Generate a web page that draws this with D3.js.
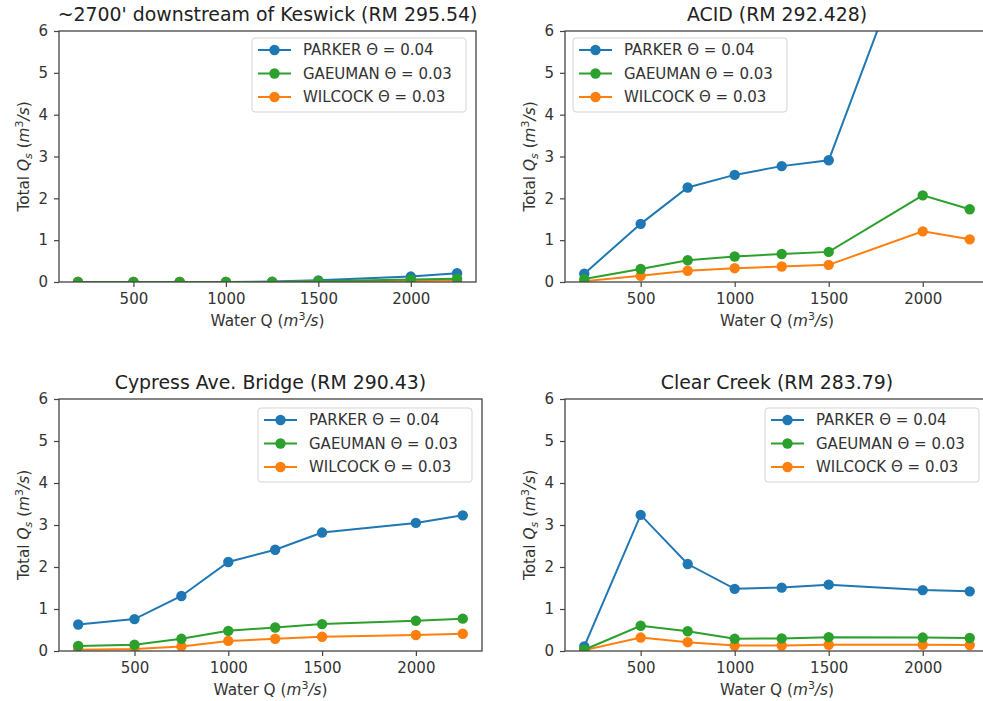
<!DOCTYPE html>
<meta charset="utf-8">
<head>
<style>
body { margin: 0; background: #fff; }
svg { font-family: "DejaVu Sans", sans-serif; }
.tick line { stroke: #444; stroke-width: 1.2; }
</style>
</head>
<body>
<script src="https://cdnjs.cloudflare.com/ajax/libs/d3/7.8.5/d3.min.js"></script>
<script>

// water discharge (x) shared by every site
var waterQ = [200, 500, 750, 1000, 1250, 1500, 2000, 2250];
var xTicks = [500, 1000, 1500, 2000];
var yTicks = [0, 1, 2, 3, 4, 5, 6];

var siteNames = ["~2700' downstream of Keswick (RM 295.54)", "ACID (RM 292.428)",
                 "Cypress Ave. Bridge (RM 290.43)", "Clear Creek (RM 283.79)"];
var legendLabels = ["PARKER \u0398 = 0.04", "GAEUMAN \u0398 = 0.03", "WILCOCK \u0398 = 0.03"];
var colors = ["#1f77b4", "#2ca02c", "#ff7f0e"];

// total sediment transport Qs per site
var parkerKeswick   = [0.00, 0.00, 0.00, 0.00, 0.01, 0.04, 0.13, 0.21];
var gaeumanKeswick  = [0.00, 0.00, 0.00, 0.00, 0.00, 0.02, 0.06, 0.08];
var wilcockKeswick  = [0.00, 0.00, 0.00, 0.00, 0.00, 0.01, 0.03, 0.04];

var parkerAcid      = [0.20, 1.39, 2.26, 2.56, 2.77, 2.91, 8.90, 8.00];
var gaeumanAcid     = [0.07, 0.31, 0.52, 0.61, 0.67, 0.72, 2.07, 1.74];
var wilcockAcid     = [0.02, 0.15, 0.27, 0.33, 0.37, 0.41, 1.21, 1.02];

var parkerCypress   = [0.63, 0.76, 1.31, 2.12, 2.41, 2.82, 3.05, 3.23];
var gaeumanCypress  = [0.12, 0.15, 0.29, 0.48, 0.56, 0.64, 0.72, 0.77];
var wilcockCypress  = [0.03, 0.05, 0.11, 0.24, 0.29, 0.34, 0.38, 0.41];

var parkerClear     = [0.11, 3.24, 2.07, 1.48, 1.51, 1.58, 1.45, 1.42];
var gaeumanClear    = [0.03, 0.60, 0.47, 0.29, 0.30, 0.33, 0.32, 0.31];
var wilcockClear    = [0.02, 0.32, 0.21, 0.13, 0.13, 0.15, 0.15, 0.14];

var panels = [
  {name: siteNames[0], series: [parkerKeswick, gaeumanKeswick, wilcockKeswick],
   left: 59, top: 31, width: 417, height: 251, legendSide: "right"},
  {name: siteNames[1], series: [parkerAcid, gaeumanAcid, wilcockAcid],
   left: 565, top: 31, width: 424, height: 251, legendSide: "left"},
  {name: siteNames[2], series: [parkerCypress, gaeumanCypress, wilcockCypress],
   left: 59, top: 399, width: 423, height: 252, legendSide: "right"},
  {name: siteNames[3], series: [parkerClear, gaeumanClear, wilcockClear],
   left: 565, top: 399, width: 424, height: 252, legendSide: "right"}
];

var tickFont = 15, labelFont = 15.3, titleFont = 18.9, legendFont = 15;

var svg = d3.select("body")
  .append("svg")
    .attr("width", 983)
    .attr("height", 701);

function drawPanel(p, idx) {
  var g = svg.append("g")
    .attr("transform", "translate(" + p.left + "," + p.top + ")");

  var x = d3.scaleLinear().domain([97.5, 2352.5]).range([0, p.width]);
  var y = d3.scaleLinear().domain([0, 6]).range([p.height, 0]);

  g.append("clipPath").attr("id", "clip" + idx)
    .append("rect").attr("width", p.width).attr("height", p.height);

  var plot = g.append("g").attr("clip-path", "url(#clip" + idx + ")");

  var line = d3.line()
    .x(function(d, i) { return x(waterQ[i]); })
    .y(function(d) { return y(d); });

  // drawing order: parker, wilcock, gaeuman (green sits on top)
  [0, 2, 1].forEach(function(k) {
    plot.append("path")
      .attr("d", line(p.series[k]))
      .attr("fill", "none")
      .attr("stroke", colors[k])
      .attr("stroke-width", 2);
    plot.selectAll(null)
      .data(p.series[k])
      .enter()
      .append("circle")
        .attr("cx", function(d, i) { return x(waterQ[i]); })
        .attr("cy", function(d) { return y(d); })
        .attr("r", 5.2)
        .attr("fill", colors[k]);
  });

  // axes
  var xa = g.append("g")
    .attr("transform", "translate(0," + p.height + ")")
    .call(d3.axisBottom(x).tickValues(xTicks).tickSize(5).tickPadding(6).tickFormat(d3.format("d")));
  xa.select(".domain").remove();
  var ya = g.append("g")
    .call(d3.axisLeft(y).tickValues(yTicks).tickSize(5).tickPadding(6).tickFormat(d3.format("d")));
  ya.select(".domain").remove();
  g.selectAll(".tick text")
    .attr("font-family", "DejaVu Sans")
    .attr("font-size", tickFont)
    .attr("fill", "#333");

  // frame
  g.append("rect")
    .attr("width", p.width).attr("height", p.height)
    .attr("fill", "none").attr("stroke", "#444").attr("stroke-width", 1.3);

  // title
  g.append("text")
    .attr("x", p.width / 2).attr("y", -10)
    .attr("text-anchor", "middle")
    .attr("font-size", titleFont)
    .attr("fill", "#222")
    .text(p.name);

  // x label
  var xl = g.append("text")
    .attr("x", p.width / 2).attr("y", p.height + 44)
    .attr("text-anchor", "middle")
    .attr("font-size", labelFont)
    .attr("fill", "#333");
  xl.append("tspan").text("Water Q (");
  xl.append("tspan").attr("font-style", "italic").text("m");
  xl.append("tspan").attr("dy", -6).attr("font-size", 11).text("3");
  xl.append("tspan").attr("dy", 6).attr("font-style", "italic").text("/s");
  xl.append("tspan").text(")");

  // y label
  var yl = g.append("text")
    .attr("transform", "translate(" + (-30) + "," + (p.height / 2) + ") rotate(-90)")
    .attr("text-anchor", "middle")
    .attr("font-size", labelFont)
    .attr("fill", "#333");
  yl.append("tspan").text("Total ");
  yl.append("tspan").attr("font-style", "italic").text("Q");
  yl.append("tspan").attr("dy", 3).attr("font-size", 11).attr("font-style", "italic").text("s");
  yl.append("tspan").attr("dy", -3).text(" (");
  yl.append("tspan").attr("font-style", "italic").text("m");
  yl.append("tspan").attr("dy", -6).attr("font-size", 11).text("3");
  yl.append("tspan").attr("dy", 6).attr("font-style", "italic").text("/s");
  yl.append("tspan").text(")");

  // legend
  var lw = 214, lh = 74;
  var lx = p.legendSide == "left" ? 8 : p.width - lw - 10;
  var ly = 7 + (p.top > 300 ? 2 : 0);
  var legend = g.append("g").attr("transform", "translate(" + lx + "," + ly + ")");
  legend.append("rect")
    .attr("width", lw).attr("height", lh)
    .attr("rx", 3)
    .attr("fill", "#fff").attr("fill-opacity", 0.8)
    .attr("stroke", "#d5d5d5");
  legendLabels.forEach(function(lab, k) {
    var row = legend.append("g").attr("transform", "translate(0," + (12 + k * 23.5) + ")");
    row.append("line")
      .attr("x1", 6).attr("x2", 39)
      .attr("stroke", colors[k]).attr("stroke-width", 2);
    row.append("circle").attr("cx", 22.5).attr("r", 5.2).attr("fill", colors[k]);
    row.append("text")
      .attr("x", 51).attr("dy", "0.36em")
      .attr("font-size", legendFont)
      .attr("fill", "#333")
      .text(lab);
  });
}

panels.forEach(drawPanel);

</script>
</body>
